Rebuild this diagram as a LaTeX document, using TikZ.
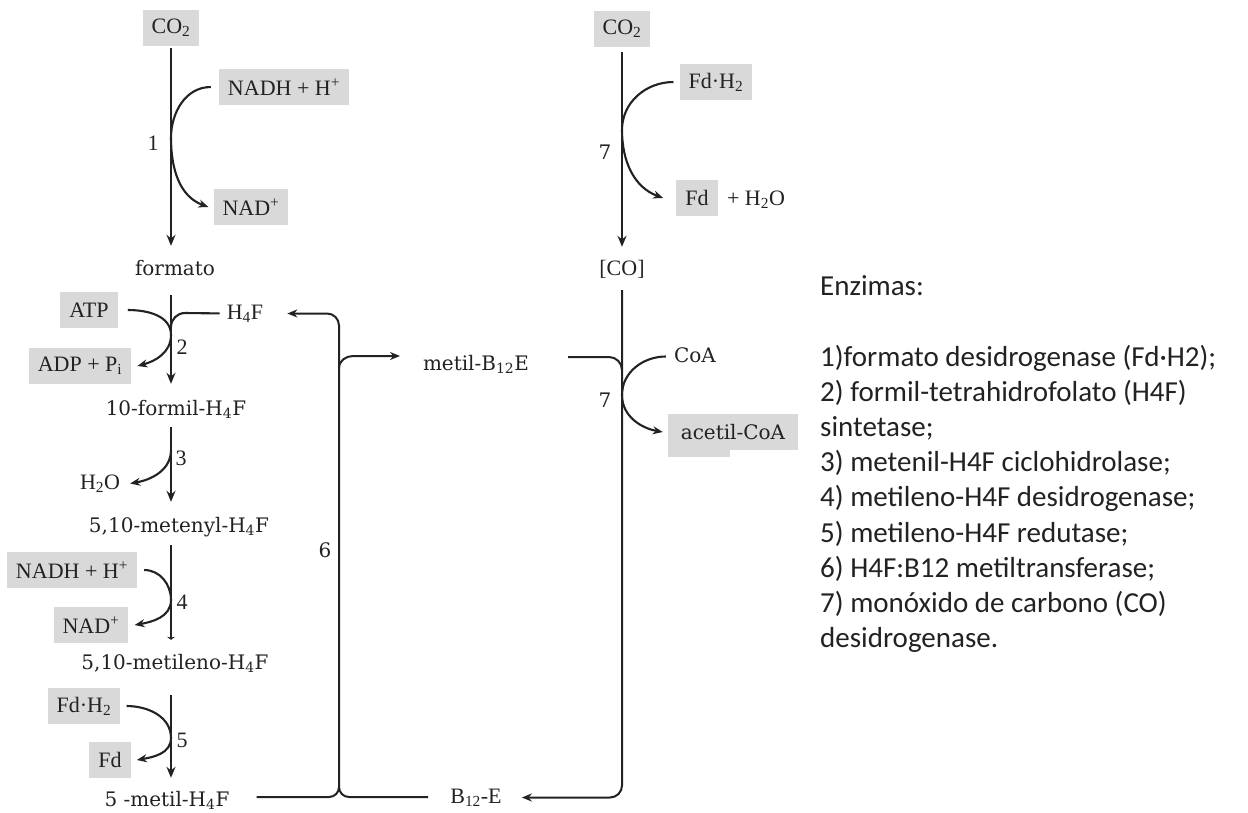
\documentclass[tikz,border=0pt]{standalone}
\usepackage{fontspec}
\setmainfont{Liberation Serif}
\newfontfamily\camfont{DejaVu Serif}
\newfontfamily\calfont{Carlito}
\usetikzlibrary{arrows.meta}
\definecolor{boxgray}{HTML}{D9D9D9}
\definecolor{ink}{HTML}{222222}
\begin{document}
\begin{tikzpicture}[x=1pt,y=-1pt,
  every node/.style={text=ink},
  tfont/.style={font=\fontsize{22}{26}\selectfont},
  cfont/.style={font=\camfont\fontsize{20}{24}\selectfont},
  efont/.style={font=\calfont\fontsize{29}{35}\selectfont, inner sep=0pt, anchor=base west},
  box/.style={tfont, fill=boxgray, minimum height=36pt, inner xsep=9pt, inner ysep=0pt},
  lbl/.style={inner sep=0pt, text height=15pt, text depth=4pt, anchor=base},
  num/.style={tfont, inner sep=0pt, anchor=base},
  main/.style={draw=ink, line width=2.3pt, -{Stealth[length=11pt,width=9pt]}},
  rxn/.style={draw=ink, line width=2.1pt, -{Stealth[length=10pt,width=8pt]}},
  rxnline/.style={draw=ink, line width=2.1pt},
  loopline/.style={draw=ink, line width=2pt},
  looparrow/.style={draw=ink, line width=2pt, -{Stealth[length=10pt,width=8pt]}},
]
\useasboundingbox (0,0) rectangle (1248,812);

% ---------- left column ----------
\node[box] (co2L) at (171,28) {CO\textsubscript{2}};
\node[box] (nadhT) at (284,87) {NADH + H\textsuperscript{+}};
\node[box] (nadT) at (251,207) {NAD\textsuperscript{+}};
\node[lbl,cfont] (formato) at (175,275) {formato};
\node[box] (atp) at (89,310) {ATP};
\node[box] (adp) at (80,366) {ADP + P\textsubscript{i}};
\node[lbl,tfont] (h4f) at (245,319) {H\textsubscript{4}F};
\node[lbl,cfont] (formil) at (176,415) {10-formil-H\textsubscript{4}F};
\node[lbl,tfont] (h2o) at (100,489) {H\textsubscript{2}O};
\node[lbl,cfont] (metenyl) at (179,532) {5,10-metenyl-H\textsubscript{4}F};
\node[box] (nadh4) at (72,570) {NADH + H\textsuperscript{+}};
\node[box] (nad4) at (91,625) {NAD\textsuperscript{+}};
\node[lbl,cfont] (metileno) at (175,669) {5,10-metileno-H\textsubscript{4}F};
\node[box] (fdh5) at (84,706) {Fd·H\textsubscript{2}};
\node[box] (fd5) at (110,760) {Fd};
\node[lbl,cfont] (metil) at (167,806) {5 -metil-H\textsubscript{4}F};

% ---------- right column ----------
\node[box] (co2R) at (622,29) {CO\textsubscript{2}};
\node[box] (fdh7) at (716,82) {Fd·H\textsubscript{2}};
\node[box] (fd7) at (697,198) {Fd};
\node[lbl,tfont] (h2o7) at (756,205) {+ H\textsubscript{2}O};
\node[lbl,tfont] (co) at (622,275) {[CO]};
\node[lbl,cfont] (metilb) at (476,370) {metil-B\textsubscript{12}E};
\node[lbl,cfont] (coa) at (695,362) {CoA};
\fill[boxgray] (668,440) rectangle (730,457);
\node[box,cfont,minimum width=130pt] (acetil) at (733,432) {acetil-CoA};
\node[lbl,tfont] (b12e) at (476,803) {B\textsubscript{12}-E};

% ---------- enzyme numbers ----------
\node[num] (n1) at (153,150) {1};
\node[num] (n2) at (182,354) {2};
\node[num] (n3) at (181,465) {3};
\node[num] (n4) at (182,609) {4};
\node[num] (n5) at (182,747) {5};
\node[num,cfont] (n6) at (325,557) {6};
\node[num,cfont] (n7a) at (605,159) {7};
\node[num,cfont] (n7b) at (605,407) {7};

% ---------- junction coordinates ----------
\coordinate (t1) at (171,138);
\coordinate (t2) at (171,335);
\coordinate (b2) at (171,327);
\coordinate (t3) at (171,450);
\coordinate (t4) at (171,600);
\coordinate (t5) at (171,738);
\coordinate (t7a) at (622,130);
\coordinate (t7b) at (622,395);
\coordinate (j6br) at (339,368);
\coordinate (j6bot) at (339,797);
\coordinate (j7) at (622,370);

% ---------- main arrows ----------
\draw[main, shorten <=2pt, shorten >=14pt] (co2L.south) -- (co2L.south |- formato.north);
\draw[main, shorten <=16pt, shorten >=16pt] (co2L.south |- formato.south) -- (co2L.south |- formil.north);
\draw[main, shorten <=8pt, shorten >=15pt] (co2L.south |- formil.south) -- (co2L.south |- metenyl.north);
\draw[draw=ink, line width=2.3pt, -{Stealth[length=3pt,width=8pt]}, shorten <=9pt, shorten >=14pt] (co2L.south |- metenyl.south) -- (co2L.south |- metileno.north);
\draw[main, shorten <=22pt, shorten >=13pt] (co2L.south |- metileno.south) -- (co2L.south |- metil.north);
\draw[main, shorten <=5pt, shorten >=13pt] (co2R.south) -- (co2R.south |- co.north);

% ---------- side reactions ----------
\draw[rxn] ([xshift=-8pt]nadhT.west) to[out=180,in=90] (t1) to[out=-90,in=160] ([xshift=-5pt]nadT.west);
\draw[rxn] ([xshift=10pt]atp.east) to[out=0,in=90] (t2) to[out=-90,in=15] ([xshift=6pt]adp.east);
\draw[rxnline, shorten >=7pt] (b2) to[out=90,in=180] ++(14,-14) -- (h4f.west);
\draw[rxn] (t3) to[out=-90,in=10] ([xshift=10pt]h2o.east);
\draw[rxn] ([xshift=7pt]nadh4.east) to[out=0,in=90] (t4) to[out=-90,in=10] ([xshift=6pt]nad4.east);
\draw[rxn] ([xshift=6pt]fdh5.east) to[out=0,in=90] (t5) to[out=-90,in=10] ([xshift=6pt]fd5.east);
\draw[rxn] ([xshift=-6pt]fdh7.west) to[out=180,in=90] (t7a) to[out=-90,in=160] ([xshift=-13pt]fd7.west);
\draw[rxn] ([xshift=-8pt]coa.west) to[out=180,in=90] (t7b) to[out=-90,in=170] ([xshift=-5pt]acetil.west);

% ---------- loop 6 ----------
\draw[loopline] ([xshift=27pt]metil.east |- j6bot) -- ([xshift=-10pt]j6bot) to[out=0,in=-90] ([yshift=10pt]j6bot);
\draw[loopline] ([xshift=-22pt]b12e.west |- j6bot) -- ([xshift=10pt]j6bot) to[out=180,in=-90] ([yshift=10pt]j6bot);
\draw[looparrow, rounded corners=12pt, shorten >=24pt] ([yshift=10pt]j6bot) -- (j6bot |- h4f.east) -- (h4f.east);
\draw[looparrow] (j6br) to[out=90,in=180] ++(14,-12) -- ++(47,0);

% ---------- right loop ----------
\draw[loopline] (j7) to[out=90,in=0] ++(-13,-13) -- ++(-41,0);
\draw[looparrow, rounded corners=12pt, shorten <=11pt, shorten >=20pt] (co.south) -- (co.south |- b12e.east) -- (b12e.east);

% ---------- enzyme list ----------
\node[efont] (e0) at (820,295) {Enzimas:};
\node[efont] (e1) at (820,366) {1)formato desidrogenase (Fd·H2);};
\node[efont] (e2) at (820,401.2) {2) formil-tetrahidrofolato (H4F)};
\node[efont] (e2b) at (820,436.4) {sintetase;};
\node[efont] (e3) at (820,471.6) {3) metenil-H4F ciclohidrolase;};
\node[efont] (e4) at (820,506.8) {4) metileno-H4F desidrogenase;};
\node[efont] (e5) at (820,542) {5) metileno-H4F redutase;};
\node[efont] (e6) at (820,577.2) {6) H4F:B12 metiltransferase;};
\node[efont] (e7) at (820,612.4) {7) monóxido de carbono (CO)};
\node[efont] (e7b) at (820,647.6) {desidrogenase.};
\end{tikzpicture}
\end{document}
